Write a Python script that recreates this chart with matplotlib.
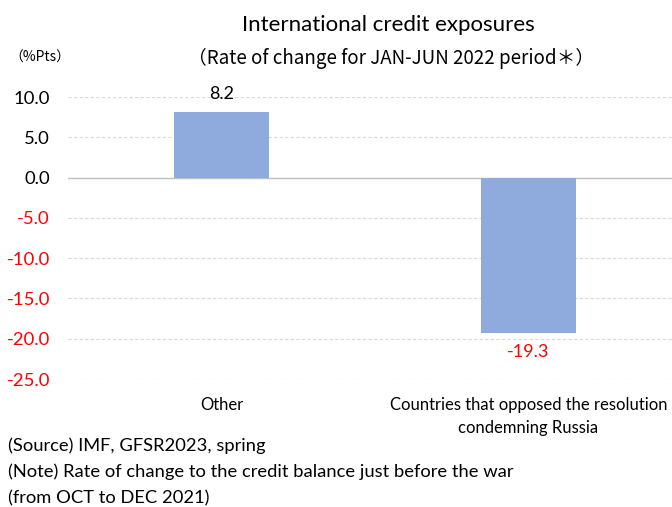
import matplotlib
matplotlib.use("Agg")
import matplotlib.pyplot as plt

plt.rcParams['font.family'] = ['Lato', 'DejaVu Sans']

categories = ["Other", "Countries that opposed the resolution\ncondemning Russia"]
values = [8.2, -19.3]
value_labels = ["8.2", "-19.3"]
yticks = [10, 5, 0, -5, -10, -15, -20, -25]

W, H = 672, 507
fig = plt.figure(figsize=(W / 100, H / 100), dpi=100)

def px(x, y):
    return x / W, 1 - y / H

# axes placed in pixel space; right edge runs past the canvas
left, right, top, bottom = 68, 682, 97, 379
ax = fig.add_axes([left / W, 1 - bottom / H, (right - left) / W, (bottom - top) / H])

bar_color = "#8FAADC"
x = range(len(categories))
ax.bar(x, values, width=0.31, color=bar_color, zorder=3)
ax.set_xlim(-0.5, 1.5)
ax.set_ylim(-25, 10)

for v in yticks:
    if v == 0:
        ax.axhline(0, color="#BFBFBF", lw=1.0, zorder=2)
    else:
        ax.axhline(v, color="#D9D9D9", lw=0.8, ls=(0, (3, 2)), zorder=1)

ax.set_yticks(yticks)
ax.set_yticklabels([f"{v:.1f}" for v in yticks], fontsize=13.3)
for lbl, v in zip(ax.get_yticklabels(), yticks):
    lbl.set_color("#FF0000" if v < 0 else "black")
ax.tick_params(axis="y", length=0, pad=13)
ax.set_xticks(list(x))
ax.set_xticklabels(categories, fontsize=12, linespacing=1.55)
ax.tick_params(axis="x", length=0, pad=13)
for s in ax.spines.values():
    s.set_visible(False)

for i, (v, t) in enumerate(zip(values, value_labels)):
    if v >= 0:
        ax.annotate(t, (i, v), xytext=(0, 7), textcoords="offset points",
                    ha="center", va="bottom", fontsize=13, color="black")
    else:
        ax.annotate(t, (i, v), xytext=(0, -8), textcoords="offset points",
                    ha="center", va="top", fontsize=13, color="#FF0000")

fig.text(*px(388, 25), "International credit exposures", ha="center", va="center", fontsize=16)
fig.text(*px(391, 58), "（Rate of change for JAN-JUN 2022 period＊）", ha="center", va="center",
         fontsize=13.5, family=['Noto Sans CJK JP', 'Lato'])
fig.text(*px(40, 58), "（%Pts）", ha="center", va="center", fontsize=10,
         family=['Noto Sans CJK JP', 'Lato'])

notes = ["(Source) IMF, GFSR2023, spring",
         "(Note) Rate of change to the credit balance just before the war",
         "(from OCT to DEC 2021)"]
for i, n in enumerate(notes):
    fig.text(*px(8, 446 + 26 * i), n, ha="left", va="center", fontsize=13.2)

fig.savefig("out.png", dpi=100)
